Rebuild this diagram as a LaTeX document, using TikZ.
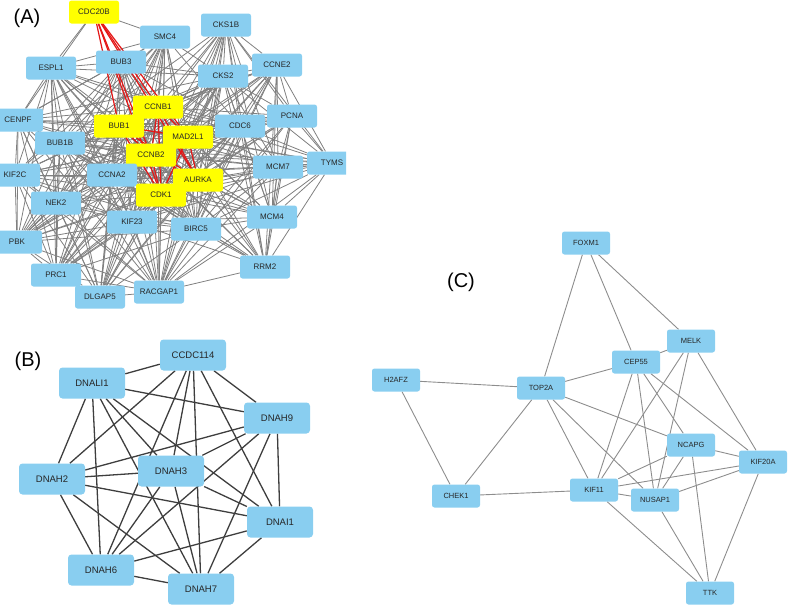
\documentclass[tikz,border=0pt]{standalone}
\usepackage{fontspec}
\setmainfont{Liberation Sans}
\usetikzlibrary{backgrounds}
\definecolor{geneblue}{RGB}{137,206,240}
\definecolor{hubyellow}{RGB}{255,255,0}
\definecolor{edgegray}{RGB}{128,128,128}
\definecolor{edgedark}{RGB}{62,62,62}
\definecolor{edgered}{RGB}{228,22,22}
\def\coreA{CCNB1,BUB1,MAD2L1,CCNB2,AURKA,CDK1,CCNA2,BUB1B,KIF23,BIRC5,NEK2,RACGAP1,KIF2C,CENPF,PBK,PRC1,DLGAP5,ESPL1,BUB3,SMC4,CKS2,CDC6}
\def\repA{CKS1B,CCNE2,PCNA,MCM7,TYMS,MCM4,RRM2,CDC6}
\def\linkA{CDK1,CCNA2,CCNB1,CCNB2,BUB1,MAD2L1,AURKA,BIRC5,BUB1B,KIF23,CKS2,RACGAP1}
\def\hubsA{CDC20B,CCNB1,BUB1,MAD2L1,CCNB2,AURKA,CDK1}
\def\allB{CCDC114,DNALI1,DNAH9,DNAH3,DNAH2,DNAI1,DNAH6,DNAH7}
\begin{document}
\begin{tikzpicture}[x=1pt, y=-1pt,
    geneA/.style = {shape=rectangle, rounded corners=2.5pt, fill=geneblue,
      minimum width=50pt, minimum height=23pt, inner sep=0pt,
      font=\fontsize{8}{9}\selectfont, text=black!85},
    hubA/.style = {geneA, fill=hubyellow},
    geneB/.style = {geneA, minimum width=66pt, minimum height=31pt,
      rounded corners=3.5pt, font=\fontsize{9.5}{11}\selectfont},
    geneC/.style = {geneA, minimum width=48pt, font=\fontsize{7.5}{9}\selectfont},
    edgeA/.style = {draw=edgegray, line width=0.8pt},
    redA/.style = {draw=edgered, line width=1.2pt},
    edgeB/.style = {draw=edgedark, line width=1.3pt},
    edgeC/.style = {draw=edgegray!90, line width=0.9pt},
    panel/.style = {font=\fontsize{20}{24}\selectfont}]
  \useasboundingbox (0,0) rectangle (789,606);

  % (A)
  \node[panel] (labA) at (27,18) {(A)};
  \begin{scope}
    \clip (0,0) rectangle (346,312);
    \node[hubA]  (CDC20B)  at (94,12)   {CDC20B};
    \node[geneA] (SMC4)    at (165,37)  {SMC4};
    \node[geneA] (CKS1B)   at (226,25)  {CKS1B};
    \node[geneA] (ESPL1)   at (51,68)   {ESPL1};
    \node[geneA] (BUB3)    at (121,62)  {BUB3};
    \node[geneA] (CKS2)    at (223,76)  {CKS2};
    \node[geneA] (CCNE2)   at (277,65)  {CCNE2};
    \node[hubA]  (CCNB1)   at (158,107) {CCNB1};
    \node[geneA] (CENPF)   at (18,120)  {CENPF};
    \node[hubA]  (BUB1)    at (119,126) {BUB1};
    \node[hubA]  (MAD2L1)  at (188,137) {MAD2L1};
    \node[geneA] (CDC6)    at (240,126) {CDC6};
    \node[geneA] (PCNA)    at (292,116) {PCNA};
    \node[geneA] (BUB1B)   at (60,143)  {BUB1B};
    \node[hubA]  (CCNB2)   at (151,155) {CCNB2};
    \node[geneA] (KIF2C)   at (15,175)  {KIF2C};
    \node[geneA] (CCNA2)   at (112,175) {CCNA2};
    \node[hubA]  (AURKA)   at (198,180) {AURKA};
    \node[hubA]  (CDK1)    at (161,195) {CDK1};
    \node[geneA] (MCM7)    at (278,167) {MCM7};
    \node[geneA] (TYMS)    at (332,163) {TYMS};
    \node[geneA] (NEK2)    at (56,203)  {NEK2};
    \node[geneA] (KIF23)   at (132,222) {KIF23};
    \node[geneA] (BIRC5)   at (196,229) {BIRC5};
    \node[geneA] (MCM4)    at (272,217) {MCM4};
    \node[geneA] (PBK)     at (17,242)  {PBK};
    \node[geneA] (PRC1)    at (56,275)  {PRC1};
    \node[geneA] (RRM2)    at (265,267) {RRM2};
    \node[geneA] (DLGAP5)  at (100,297) {DLGAP5};
    \node[geneA] (RACGAP1) at (159,292) {RACGAP1};
  \end{scope}

  % (B)
  \node[panel] (labB) at (28,361) {(B)};
  \node[geneB] (CCDC114) at (193,355) {CCDC114};
  \node[geneB] (DNALI1)  at (92,383)  {DNALI1};
  \node[geneB] (DNAH9)   at (277,418) {DNAH9};
  \node[geneB] (DNAH3)   at (171,471) {DNAH3};
  \node[geneB] (DNAH2)   at (52,479)  {DNAH2};
  \node[geneB] (DNAI1)   at (280,522) {DNAI1};
  \node[geneB] (DNAH6)   at (101,570) {DNAH6};
  \node[geneB] (DNAH7)   at (201,589) {DNAH7};

  % (C)
  \node[panel] (labC) at (461,282) {(C)};
  \node[geneC] (FOXM1)  at (586,243) {FOXM1};
  \node[geneC] (H2AFZ)  at (396,380) {H2AFZ};
  \node[geneC] (TOP2A)  at (541,388) {TOP2A};
  \node[geneC] (CEP55)  at (636,362) {CEP55};
  \node[geneC] (MELK)   at (691,341) {MELK};
  \node[geneC] (NCAPG)  at (691,445) {NCAPG};
  \node[geneC] (KIF20A) at (763,462) {KIF20A};
  \node[geneC] (CHEK1)  at (456,496) {CHEK1};
  \node[geneC] (KIF11)  at (594,490) {KIF11};
  \node[geneC] (NUSAP1) at (655,500) {NUSAP1};
  \node[geneC] (TTK)    at (710,593) {TTK};

  \begin{pgfonlayer}{background}
    \foreach \a [count=\i] in \coreA {
      \foreach \b [count=\j] in \coreA {
        \ifnum\i<\j \draw[edgeA] (\a) -- (\b); \fi
      }
    }
    \foreach \a [count=\i] in \repA {
      \foreach \b [count=\j] in \repA {
        \ifnum\i<\j \draw[edgeA] (\a) -- (\b); \fi
      }
    }
    \foreach \a in {CKS1B,CCNE2,PCNA,MCM7,TYMS,MCM4,RRM2} {
      \foreach \b in \linkA {
        \draw[edgeA] (\a) -- (\b);
      }
    }
    \foreach \b in {ESPL1,CENPF,SMC4}
      \draw[edgeA] (CDC20B) -- (\b);
    \foreach \a [count=\i] in \hubsA {
      \foreach \b [count=\j] in \hubsA {
        \ifnum\i<\j \draw[redA] (\a) -- (\b); \fi
      }
    }
    \foreach \a [count=\i] in \allB {
      \foreach \b [count=\j] in \allB {
        \ifnum\i<\j \draw[edgeB] (\a) -- (\b); \fi
      }
    }
    \foreach \a/\b in {FOXM1/TOP2A, FOXM1/CEP55, FOXM1/MELK,
        H2AFZ/TOP2A, H2AFZ/CHEK1, TOP2A/CHEK1, TOP2A/CEP55,
        TOP2A/KIF11, TOP2A/NUSAP1, TOP2A/NCAPG, CEP55/MELK,
        CEP55/KIF11, CEP55/NUSAP1, CEP55/NCAPG, CEP55/KIF20A,
        MELK/KIF11, MELK/NUSAP1, MELK/KIF20A, NCAPG/KIF11,
        NCAPG/NUSAP1, NCAPG/KIF20A, NCAPG/TTK, KIF11/KIF20A,
        KIF11/NUSAP1, KIF11/CHEK1, KIF11/TTK, NUSAP1/KIF20A,
        NUSAP1/TTK, KIF20A/TTK}
      \draw[edgeC] (\a) -- (\b);
  \end{pgfonlayer}
\end{tikzpicture}
\end{document}
